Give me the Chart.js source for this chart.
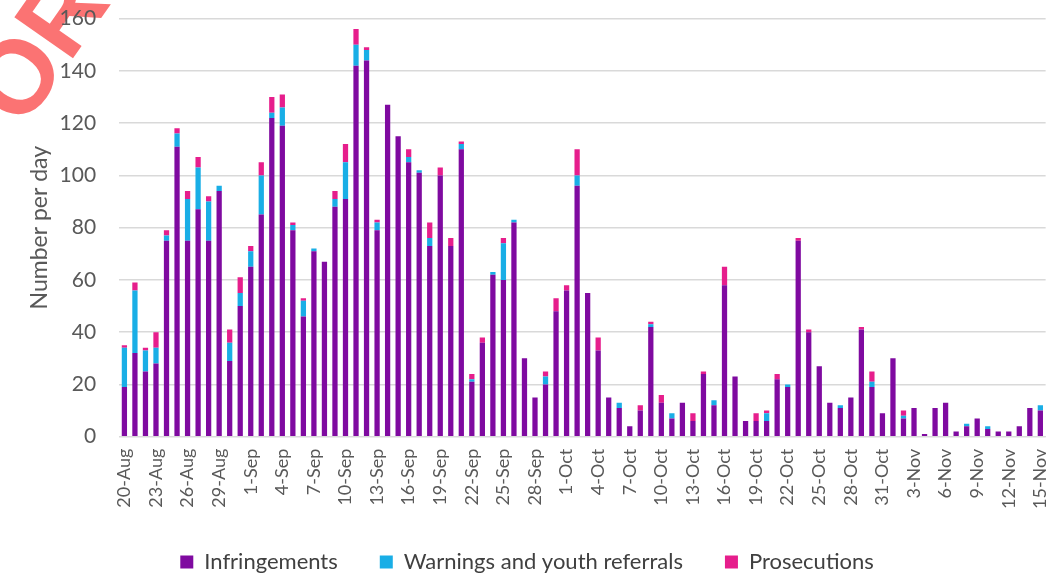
<!DOCTYPE html>
<html>
<head>
<meta charset="utf-8">
<script src="https://cdn.jsdelivr.net/npm/chart.js@4"></script>
<style>
  html, body { margin: 0; padding: 0; background: #fff; }
  #wrap { width: 1062px; height: 575px; position: relative; }
</style>
</head>
<body>
<div id="wrap"><canvas id="chart"></canvas></div>
<script>
// daily counts, 20 Aug - 15 Nov
const days = [
  '20-Aug','21-Aug','22-Aug','23-Aug','24-Aug','25-Aug','26-Aug','27-Aug','28-Aug','29-Aug','30-Aug','31-Aug',
  '1-Sep','2-Sep','3-Sep','4-Sep','5-Sep','6-Sep','7-Sep','8-Sep','9-Sep','10-Sep','11-Sep','12-Sep','13-Sep','14-Sep','15-Sep',
  '16-Sep','17-Sep','18-Sep','19-Sep','20-Sep','21-Sep','22-Sep','23-Sep','24-Sep','25-Sep','26-Sep','27-Sep','28-Sep','29-Sep','30-Sep',
  '1-Oct','2-Oct','3-Oct','4-Oct','5-Oct','6-Oct','7-Oct','8-Oct','9-Oct','10-Oct','11-Oct','12-Oct','13-Oct','14-Oct','15-Oct',
  '16-Oct','17-Oct','18-Oct','19-Oct','20-Oct','21-Oct','22-Oct','23-Oct','24-Oct','25-Oct','26-Oct','27-Oct','28-Oct','29-Oct','30-Oct','31-Oct',
  '1-Nov','2-Nov','3-Nov','4-Nov','5-Nov','6-Nov','7-Nov','8-Nov','9-Nov','10-Nov','11-Nov','12-Nov','13-Nov','14-Nov','15-Nov'
];

const infringements = [
  19, 32, 25, 28, 75, 111, 75, 87, 75, 94, 29, 50,
  65, 85, 122, 119, 79, 46, 71, 67, 88, 91, 142, 144, 79, 127, 115,
  105, 101, 73, 100, 73, 110, 21, 36, 62, 60, 82, 30, 15, 20, 48,
  56, 96, 55, 33, 15, 11, 4, 10, 42, 13, 7, 13, 6, 24, 12,
  58, 23, 6, 6, 6, 22, 19, 75, 40, 27, 13, 11, 15, 41, 19, 9,
  30, 7, 11, 1, 11, 13, 2, 4, 7, 3, 2, 2, 4, 11, 10
];

const warnings = [
  15, 24, 8, 6, 2, 5, 16, 16, 15, 2, 7, 5,
  6, 15, 2, 7, 2, 6, 1, 0, 3, 14, 8, 4, 3, 0, 0,
  2, 1, 3, 0, 0, 2, 1, 0, 1, 14, 1, 0, 0, 3, 0,
  0, 4, 0, 0, 0, 2, 0, 0, 1, 0, 2, 0, 0, 0, 2,
  0, 0, 0, 0, 3, 0, 1, 0, 0, 0, 0, 1, 0, 0, 2, 0,
  0, 1, 0, 0, 0, 0, 0, 1, 0, 1, 0, 0, 0, 0, 2
];

const prosecutions = [
  1, 3, 1, 6, 2, 2, 3, 4, 2, 0, 5, 6,
  2, 5, 6, 5, 1, 1, 0, 0, 3, 7, 6, 1, 1, 0, 0,
  3, 0, 6, 3, 3, 1, 2, 2, 0, 2, 0, 0, 0, 2, 5,
  2, 10, 0, 5, 0, 0, 0, 2, 1, 3, 0, 0, 3, 1, 0,
  7, 0, 0, 3, 1, 2, 0, 1, 1, 0, 0, 0, 0, 1, 4, 0,
  0, 2, 0, 0, 0, 0, 0, 0, 0, 0, 0, 0, 0, 0, 0
];

const yTicks = [0, 20, 40, 60, 80, 100, 120, 140, 160];

const FONT = 'Lato, "Open Sans", sans-serif';
const TEXT = '#595959';

// faint stamp in the top-left corner, under everything else
const stamp = {
  id: 'stamp',
  beforeDraw(chart) {
    const ctx = chart.ctx;
    ctx.save();
    ctx.translate(-97, 251);
    ctx.rotate(-55 * Math.PI / 180);
    ctx.font = 'bold 104px "Liberation Sans", sans-serif';
    ctx.fillStyle = 'rgba(250, 90, 90, 0.85)';
    ctx.fillText('INFORMATION', 0, 0);
    ctx.restore();
  }
};

new Chart(document.getElementById('chart'), {
  type: 'bar',
  data: {
    labels: days,
    datasets: [
      { label: 'Infringements', data: infringements, backgroundColor: '#7f0aa0' },
      { label: 'Warnings and youth referrals', data: warnings, backgroundColor: '#19aee6' },
      { label: 'Prosecutions', data: prosecutions, backgroundColor: '#e61e8c' }
    ]
  },
  options: {
    responsive: true,
    maintainAspectRatio: false,
    animation: false,
    datasets: { bar: { categoryPercentage: 1, barPercentage: 0.5 } },
    layout: { padding: { top: 0, right: 8, left: 0, bottom: -8 } },
    plugins: {
      legend: {
        position: 'bottom',
        labels: {
          font: { family: FONT, size: 22 },
          color: '#404040',
          boxWidth: 13,
          boxHeight: 13,
          padding: 42
        }
      },
      tooltip: { enabled: false }
    },
    scales: {
      x: {
        stacked: true,
        grid: { display: true, drawOnChartArea: false, tickColor: 'rgba(0,0,0,0)', tickLength: 12, offset: true },
        border: { color: '#d9d9d9' },
        ticks: {
          autoSkip: false,
          maxRotation: 90,
          minRotation: 90,
          padding: 0,
          color: TEXT,
          font: { family: FONT, size: 18 },
          callback: (v, i) => i % 3 === 0 ? days[i] : ''
        }
      },
      y: {
        stacked: true,
        min: 0,
        max: 160,
        afterBuildTicks: axis => { axis.ticks = yTicks.map(v => ({ value: v })); },
        grid: { color: '#d9d9d9', lineWidth: 1.5, drawTicks: true, tickLength: 17, tickColor: 'rgba(0,0,0,0)' },
        border: { display: false },
        ticks: { color: TEXT, font: { family: FONT, size: 21 }, padding: 6 },
        title: {
          display: true, text: 'Number per day', color: TEXT,
          font: { family: FONT, size: 23 }, padding: { top: 26, bottom: 0 }
        }
      }
    }
  },
  plugins: [stamp]
});
</script>
</body>
</html>
